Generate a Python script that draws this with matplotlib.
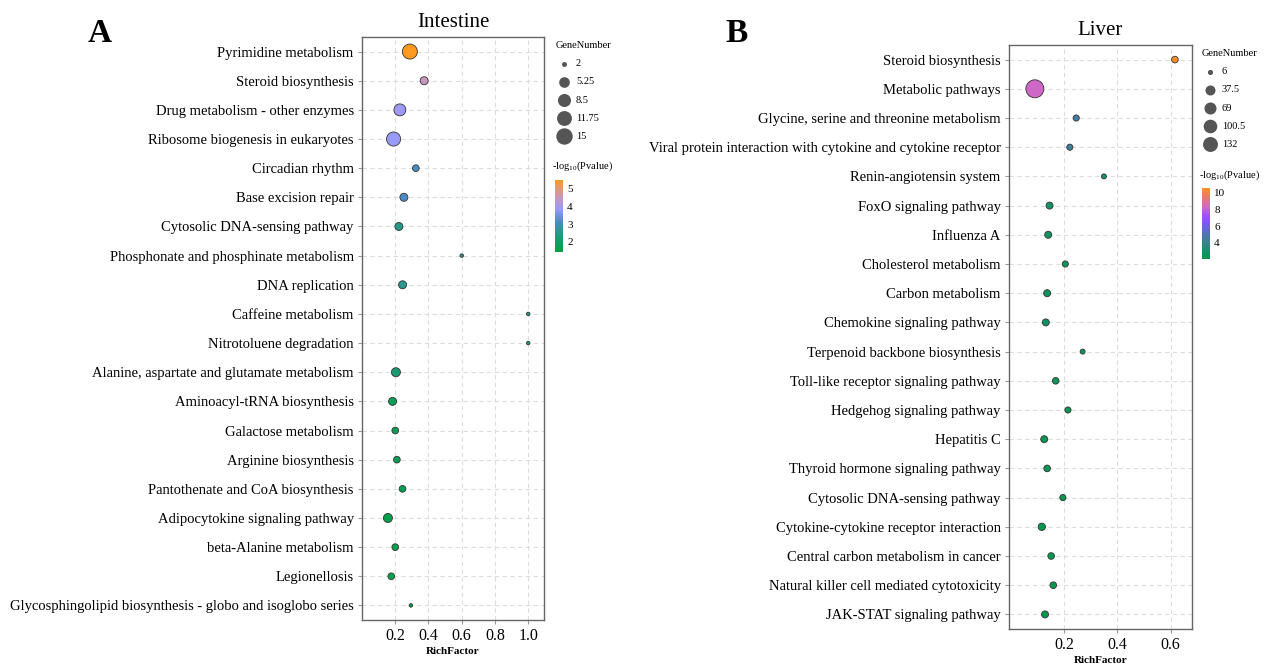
import numpy as np
import matplotlib
matplotlib.use('Agg')
import matplotlib.pyplot as plt
from matplotlib.colors import LinearSegmentedColormap, Normalize
from matplotlib.cm import ScalarMappable

plt.rcParams['font.family'] = 'Liberation Serif'
plt.rcParams['mathtext.fontset'] = 'custom'
plt.rcParams['mathtext.rm'] = 'Liberation Serif'
plt.rcParams['mathtext.it'] = 'Liberation Serif:italic'

# ---- data: Intestine ----
intestine_terms = [
    'Pyrimidine metabolism', 'Steroid biosynthesis', 'Drug metabolism - other enzymes',
    'Ribosome biogenesis in eukaryotes', 'Circadian rhythm', 'Base excision repair',
    'Cytosolic DNA-sensing pathway', 'Phosphonate and phosphinate metabolism',
    'DNA replication', 'Caffeine metabolism', 'Nitrotoluene degradation',
    'Alanine, aspartate and glutamate metabolism', 'Aminoacyl-tRNA biosynthesis',
    'Galactose metabolism', 'Arginine biosynthesis', 'Pantothenate and CoA biosynthesis',
    'Adipocytokine signaling pathway', 'beta-Alanine metabolism', 'Legionellosis',
    'Glycosphingolipid biosynthesis - globo and isoglobo series',
]
intestine_rich = [0.288, 0.374, 0.228, 0.19, 0.324, 0.252, 0.222, 0.6, 0.244, 1.0, 1.0,
                  0.204, 0.184, 0.2, 0.21, 0.244, 0.156, 0.2, 0.176, 0.294]
intestine_genes = [15, 4, 9, 13, 3, 4, 4, 2, 4, 2, 2, 5, 4, 3, 3, 3, 5, 3, 3, 2]
intestine_logp = [5.51, 4.5, 3.9, 3.85, 3.1, 3.15, 2.45, 2.5, 2.55, 2.4, 2.4,
                  2.15, 1.75, 1.7, 1.7, 1.6, 1.55, 1.6, 1.6, 1.41]
intestine_size_ticks = [2, 5.25, 8.5, 11.75, 15]
intestine_color_ticks = [2, 3, 4, 5]
intestine_xticks = [0.2, 0.4, 0.6, 0.8, 1.0]

# ---- data: Liver ----
liver_terms = [
    'Steroid biosynthesis', 'Metabolic pathways', 'Glycine, serine and threonine metabolism',
    'Viral protein interaction with cytokine and cytokine receptor', 'Renin-angiotensin system',
    'FoxO signaling pathway', 'Influenza A', 'Cholesterol metabolism', 'Carbon metabolism',
    'Chemokine signaling pathway', 'Terpenoid backbone biosynthesis',
    'Toll-like receptor signaling pathway', 'Hedgehog signaling pathway', 'Hepatitis C',
    'Thyroid hormone signaling pathway', 'Cytosolic DNA-sensing pathway',
    'Cytokine-cytokine receptor interaction', 'Central carbon metabolism in cancer',
    'Natural killer cell mediated cytotoxicity', 'JAK-STAT signaling pathway',
]
liver_rich = [0.616, 0.091, 0.246, 0.222, 0.35, 0.146, 0.141, 0.205, 0.137, 0.132,
              0.27, 0.169, 0.215, 0.126, 0.137, 0.196, 0.117, 0.152, 0.16, 0.129]
liver_genes = [8, 132, 7, 7, 6, 9, 9, 7, 9, 9, 6, 8, 7, 9, 8, 7, 10, 8, 8, 9]
liver_logp = [10.6, 8.3, 4.6, 4.4, 3.0, 2.9, 2.8, 2.7, 2.7, 2.6, 2.6, 2.5, 2.5,
              2.4, 2.4, 2.3, 2.3, 2.2, 2.2, 2.08]
liver_size_ticks = [6, 37.5, 69, 100.5, 132]
liver_color_ticks = [4, 6, 8, 10]
liver_xticks = [0.2, 0.4, 0.6]

cmap_int = LinearSegmentedColormap.from_list('int', [
    (0.0, '#00a040'), (0.22, '#1f9a7c'), (0.42, '#4a8cc4'),
    (0.6, '#9a9af8'), (0.78, '#cf96b4'), (1.0, '#ff9a1e')])
cmap_liv = LinearSegmentedColormap.from_list('liv', [
    (0.0, '#009a48'), (0.28, '#3f7f9c'), (0.47, '#6f5fe6'),
    (0.58, '#9a4cff'), (0.72, '#cc66cc'), (1.0, '#ff8c22')])

fig = plt.figure(figsize=(12.68, 6.64), dpi=100)


def size_of(v, vmin, vmax, dmin, dmax):
    t = (np.asarray(v, dtype=float) - vmin) / (vmax - vmin)
    d = dmin + np.sqrt(np.clip(t, 0, 1)) * (dmax - dmin)   # diameter in px
    return (d * 0.72) ** 2


def panel(rect, title, terms, rich, genes, logp, size_ticks, color_ticks, cmap,
          xlim, xticks, drange, leg_xy, mscale, cbar_rect, cbar_title_xy):
    ax = fig.add_axes(rect)
    n = len(terms)
    y = np.arange(n)[::-1]
    vmin, vmax = min(size_ticks), max(size_ticks)
    norm = Normalize(min(logp), max(logp))
    ax.grid(True, ls=(0, (4, 3)), color='#dddddd', lw=0.8)
    ax.set_axisbelow(True)
    ax.scatter(rich, y, s=size_of(genes, vmin, vmax, *drange), c=logp, cmap=cmap,
               norm=norm, edgecolors='#333333', linewidths=0.6, zorder=3)
    ax.set_xlim(*xlim)
    ax.set_ylim(-0.5, n - 0.5)
    ax.set_yticks(y)
    ax.set_yticklabels(terms, fontsize=10.5)
    ax.set_xticks(xticks)
    ax.set_xticklabels([f'{t:.1f}' for t in xticks], fontsize=11.5)
    ax.tick_params(axis='both', length=3, color='#999999', pad=3)
    ax.set_xlabel('RichFactor', fontsize=8, fontweight='bold', labelpad=2)
    ax.set_title(title, fontsize=15, pad=7)
    for sp in ax.spines.values():
        sp.set_color('#666666')
        sp.set_linewidth(1.0)

    handles = [ax.scatter([], [], s=size_of(t, vmin, vmax, *drange), color='#555555',
                          label=f'{t:g}') for t in size_ticks]
    ax.legend(handles=handles, title='GeneNumber', loc='upper left',
              bbox_to_anchor=leg_xy, bbox_transform=fig.transFigure, frameon=False,
              fontsize=7.5, title_fontsize=7.5, alignment='left', handletextpad=0.4,
              labelspacing=0.85, borderaxespad=0, handlelength=1.6, markerscale=mscale)

    cax = fig.add_axes(cbar_rect)
    cb = fig.colorbar(ScalarMappable(norm=norm, cmap=cmap), cax=cax, ticks=color_ticks)
    cb.outline.set_visible(False)
    cax.tick_params(labelsize=8, length=2, color='white', pad=1)
    fig.text(cbar_title_xy[0], cbar_title_xy[1], '-log$_{10}$(Pvalue)', fontsize=7.5,
             ha='left', va='center')
    return ax


W, H = 1268, 664
panel([362 / W, 1 - 620 / H, 182 / W, 583 / H], 'Intestine', intestine_terms,
      intestine_rich, intestine_genes, intestine_logp, intestine_size_ticks,
      intestine_color_ticks, cmap_int, (0, 1.095), intestine_xticks, (3.5, 15),
      (551 / W, 1 - 37 / H), 1.0, [555 / W, 1 - 252 / H, 8 / W, 72 / H],
      (552 / W, 1 - 166 / H))
panel([1009 / W, 1 - 629 / H, 183 / W, 584 / H], 'Liver', liver_terms,
      liver_rich, liver_genes, liver_logp, liver_size_ticks,
      liver_color_ticks, cmap_liv, (-0.006, 0.68), liver_xticks, (5, 18),
      (1197 / W, 1 - 45 / H), 0.75, [1202 / W, 1 - 259 / H, 8 / W, 71 / H],
      (1199 / W, 1 - 175 / H))

fig.text(100 / W, 1 - 33 / H, 'A', fontsize=24, fontweight='bold', ha='center', va='center')
fig.text(737 / W, 1 - 33 / H, 'B', fontsize=24, fontweight='bold', ha='center', va='center')

fig.savefig('out.png', dpi=100)
